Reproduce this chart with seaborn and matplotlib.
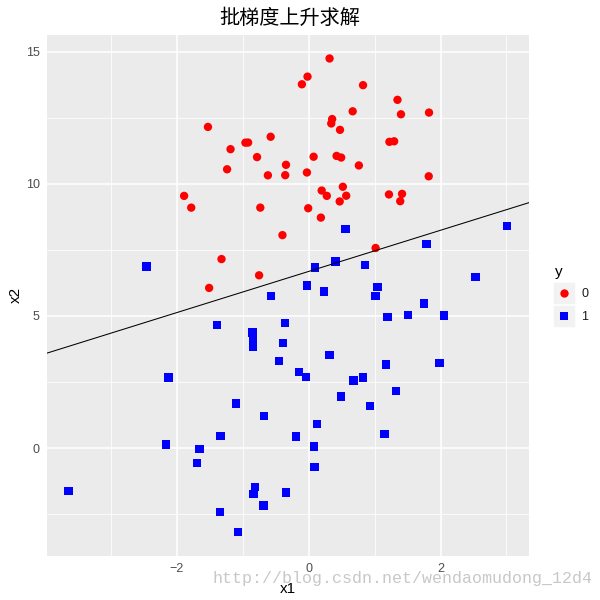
import numpy as np
import pandas as pd
import matplotlib
matplotlib.use("Agg")
import matplotlib.pyplot as plt
import seaborn as sns
from matplotlib.patches import Rectangle

x1 = [-0.017612, -1.395634, -0.752157, -1.322371, 0.423363, 0.406704, 0.667394, -2.460150, 0.569411, -0.026632,
      0.850433, 1.347183, 1.176813, -1.781871, -0.566606, 0.931635, -0.024205, -0.036453, -0.196949, 1.014459,
      1.985298, -1.693453, -0.576525, -0.346811, -2.124484, 1.217916, -0.733928, -3.642001, 0.315985, 1.416614,
      -0.386323, 0.556921, 1.224863, -1.347803, 1.196604, 0.275221, 0.470575, -1.889567, -1.527893, -1.185247,
      -0.445678, 1.042222, -0.618787, 1.152083, 0.828534, -1.237728, -0.683565, 0.229456, -0.959885, 0.492911,
      0.184992, -0.355715, -0.397822, 0.824839, 1.507278, 0.099671, -0.344008, 1.785928, -0.918801, -0.364009,
      -0.841722, 0.490426, -0.007194, 0.356107, 0.342578, -0.810823, 2.530777, 1.296683, 0.475487, -0.783277,
      0.074798, -1.337472, -0.102781, -0.147324, 0.518389, 1.015399, -1.658086, 1.319944, 2.056216, -0.851633,
      -1.510047, -1.076637, 1.821096, 3.010150, -1.099458, -0.834872, -0.846637, 1.400102, 1.752842, 0.078557,
      0.089392, 1.825662, 0.197445, 0.126117, -0.679797, 0.677983, 0.761349, -2.168791, 1.388610, 0.317029]
x2 = [14.053064, 4.662541, 6.538620, 7.152853, 11.054677, 7.067335, 12.741452, 6.866805, 9.548755, 10.427743,
      6.920334, 13.175500, 3.167020, 9.097953, 5.749003, 1.589505, 6.151823, 2.690988, 0.444165, 5.754399,
      3.230619, -0.557540, 11.778922, -1.678730, 2.672471, 9.597015, 9.098687, -1.618087, 3.523953, 9.619232,
      3.989286, 8.294984, 11.587360, -2.406051, 4.951851, 9.543647, 9.332488, 9.542662, 12.150579, 11.309318,
      3.297303, 6.105155, 10.320986, 0.548467, 2.676045, 10.549033, -2.166125, 5.921938, 11.555336, 10.993324,
      8.721488, 10.325976, 8.058397, 13.730343, 5.027866, 6.835839, 10.717485, 7.718645, 11.560217, 4.747300,
      4.119083, 1.960539, 9.075792, 12.447863, 12.281162, -1.466018, 6.476801, 11.607559, 12.040035, 11.009725,
      11.023650, 0.468339, 13.763651, 2.874846, 9.887035, 7.571882, -0.027255, 2.171228, 5.019981, 4.375691,
      6.061992, -3.181888, 10.283990, 8.401766, 1.688274, -1.733869, 3.849075, 12.628781, 5.468166, 0.059736,
      -0.715300, 12.693808, 9.744638, 0.922311, 1.220530, 2.556666, 10.693862, 0.143632, 9.341997, 14.739025]
y = [0, 1, 0, 0, 0, 1, 0, 1, 0, 0,
     1, 0, 1, 0, 1, 1, 1, 1, 1, 1,
     1, 1, 0, 1, 1, 0, 0, 1, 1, 0,
     1, 1, 0, 1, 1, 0, 0, 0, 0, 0,
     1, 1, 0, 1, 1, 0, 1, 1, 0, 0,
     0, 0, 0, 0, 1, 1, 0, 1, 0, 1,
     1, 1, 0, 0, 0, 1, 1, 0, 0, 0,
     0, 1, 0, 1, 0, 0, 1, 1, 1, 1,
     0, 1, 0, 1, 1, 1, 1, 0, 1, 1,
     1, 0, 0, 1, 1, 1, 0, 1, 0, 0]

# decision boundary from batch gradient ascent weights
weights = [4.12414349, 0.48007329, -0.6168482]
intercept = -weights[0] / weights[2]
slope = -weights[1] / weights[2]

x_ticks = [-2, 0, 2]
y_ticks = [0, 5, 10, 15]

df = pd.DataFrame({"x1": x1, "x2": x2, "y": [str(v) for v in y]})

sns.set_theme(style="darkgrid")
plt.rcParams["font.family"] = ["Liberation Sans", "Noto Sans CJK SC", "DejaVu Sans"]

fig = plt.figure(figsize=(6, 6), dpi=100)
ax = fig.add_axes([0.0778, 0.0733, 0.8039, 0.8687])
ax.set_facecolor("#EBEBEB")

sns.scatterplot(data=df, x="x1", y="x2", hue="y", style="y",
                hue_order=["0", "1"], style_order=["0", "1"],
                palette={"0": "#FF0000", "1": "#0000FF"},
                markers={"0": "o", "1": "s"}, s=36, linewidth=0, ax=ax, zorder=3)

ax.axline((0, intercept), slope=slope, color="black", lw=0.75, zorder=4)

xmin, xmax = min(x1), max(x1)
ymin, ymax = min(x2), max(x2)
ex, ey = 0.05 * (xmax - xmin), 0.05 * (ymax - ymin)
ax.set_xlim(xmin - ex, xmax + ex)
ax.set_ylim(ymin - ey, ymax + ey)

ax.set_xticks(x_ticks)
ax.set_yticks(y_ticks)
ax.set_xticks([-3, -1, 1, 3], minor=True)
ax.set_yticks([-2.5, 2.5, 7.5, 12.5], minor=True)
ax.grid(True, which="major", color="white", lw=1.1)
ax.grid(True, which="minor", color="white", lw=0.55)
ax.set_axisbelow(True)
for sp in ax.spines.values():
    sp.set_visible(False)
ax.tick_params(axis="both", which="major", length=3, width=0.8, color="#333333",
               labelsize=9, labelcolor="#4D4D4D", pad=2)
ax.tick_params(axis="both", which="minor", length=0)
ax.set_xlabel("x1", fontsize=11, color="black", labelpad=5)
ax.set_ylabel("x2", fontsize=11, color="black", labelpad=2)

fig.text(0.483, 0.970, "批梯度上升求解", ha="center", va="center", fontsize=14.5,
         color="black", family=["Noto Sans CJK SC", "DejaVu Sans"])

# legend
leg = ax.legend(loc="upper left", bbox_to_anchor=(1.0363, 0.5237),
                frameon=False, fontsize=9, handletextpad=0.4, handlelength=2.0,
                labelspacing=0.9, borderaxespad=0, borderpad=0.4, markerscale=1.0)
for t in leg.get_texts():
    t.set_color("#1a1a1a")
fig.text(555 / 600, 1 - 272 / 600, "y", ha="left", va="center", fontsize=11, color="black")
# key backgrounds
for ytop in [282, 305]:
    ax.add_patch(Rectangle((553 / 600, 1 - (ytop + 22) / 600), 22 / 600, 22 / 600,
                           transform=fig.transFigure, facecolor="#F2F2F2",
                           edgecolor="white", lw=0.5, zorder=4.9, clip_on=False))

fig.text(592 / 600, 1 - 578 / 600, "http://blog.csdn.net/wendaomudong_12d4",
         ha="right", va="center", fontsize=12, color="#C8C8C8",
         family="Liberation Mono")

fig.savefig("out.png", dpi=100)
